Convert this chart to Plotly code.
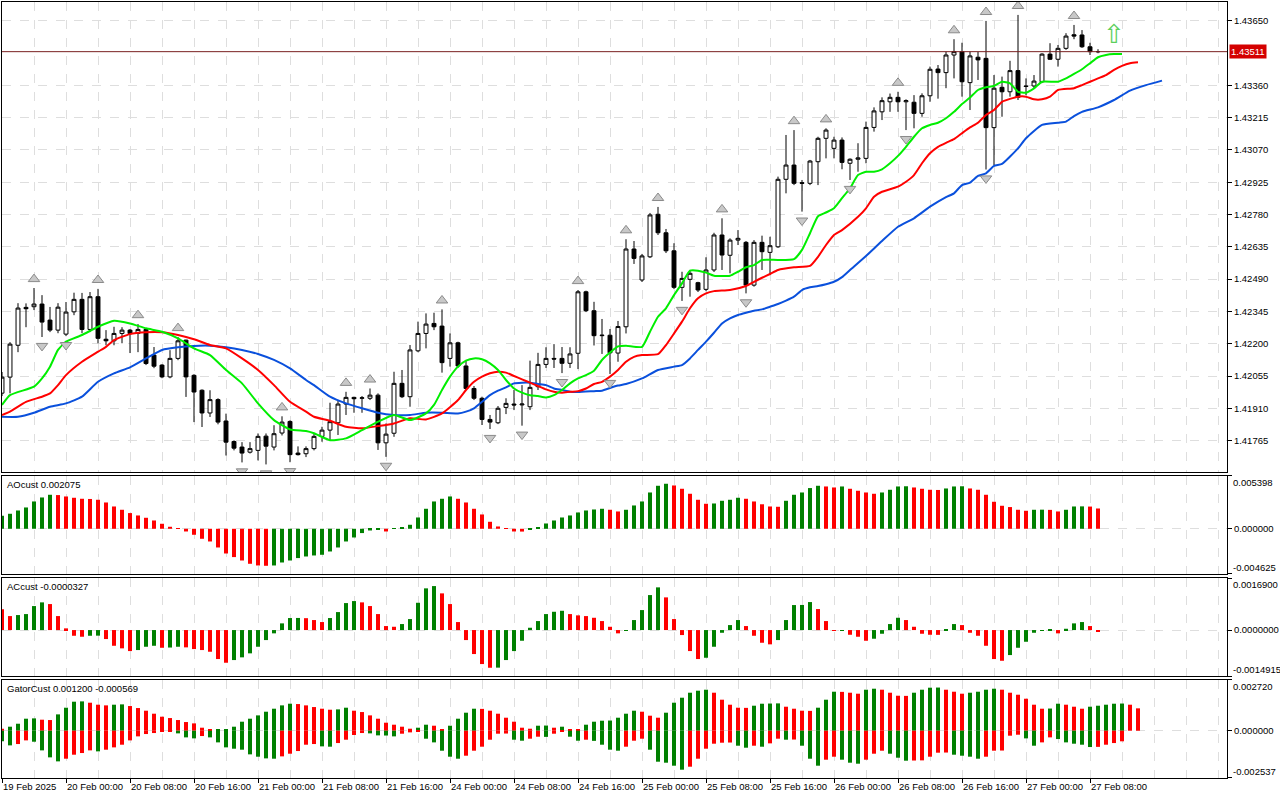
import plotly.graph_objects as go

# H1 bars, 19 Feb 2025 16:00 .. 27 Feb 2025 09:00 (weekend skipped)
opens = [
    1.41978, 1.42050, 1.42193, 1.42363, 1.42366, 1.42378, 1.42306, 1.42261, 1.42243, 1.42343,
    1.42399, 1.42264, 1.42411, 1.42220, 1.42213, 1.42246, 1.42261, 1.42246, 1.42264, 1.42149,
    1.42104, 1.42051, 1.42134, 1.42216, 1.42058, 1.41991, 1.41889, 1.41949, 1.41853, 1.41761,
    1.41736, 1.41713, 1.41721, 1.41785, 1.41736, 1.41799, 1.41851, 1.41709, 1.41706, 1.41729,
    1.41784, 1.41812, 1.41845, 1.41929, 1.41959, 1.41955, 1.41955, 1.41969, 1.41755, 1.41798,
    1.42022, 1.41962, 1.42168, 1.42246, 1.42291, 1.42279, 1.42134, 1.42204, 1.42100, 1.41999,
    1.41955, 1.41860, 1.41845, 1.41914, 1.41929, 1.41925, 1.41917, 1.42007, 1.42107, 1.42134,
    1.42134, 1.42112, 1.42157, 1.42433, 1.42348, 1.42236, 1.42238, 1.42158, 1.42276, 1.42625,
    1.42486, 1.42590, 1.42781, 1.42698, 1.42617, 1.42453, 1.42489, 1.42474, 1.42444, 1.42531,
    1.42688, 1.42597, 1.42665, 1.42655, 1.42463, 1.42655, 1.42610, 1.42635, 1.42938, 1.43002,
    1.42923, 1.42920, 1.43017, 1.43122, 1.43077, 1.43114, 1.43010, 1.43028, 1.43032, 1.43171,
    1.43241, 1.43286, 1.43306, 1.43286, 1.43284, 1.43234, 1.43313, 1.43433, 1.43417, 1.43496,
    1.43511, 1.43372, 1.43486, 1.43481, 1.43170, 1.43351, 1.43331, 1.43426, 1.43357, 1.43357,
    1.43376, 1.43500, 1.43477, 1.43526, 1.43587, 1.43586, 1.43533, 1.43511]
highs = [
    1.42073, 1.42207, 1.42382, 1.42381, 1.42450, 1.42418, 1.42365, 1.42382, 1.42387, 1.42429,
    1.42428, 1.42432, 1.42446, 1.42261, 1.42276, 1.42274, 1.42266, 1.42288, 1.42270, 1.42185,
    1.42108, 1.42171, 1.42230, 1.42218, 1.42063, 1.41995, 1.41991, 1.41955, 1.41886, 1.41766,
    1.41758, 1.41758, 1.41797, 1.41797, 1.41834, 1.41874, 1.41856, 1.41739, 1.41739, 1.41797,
    1.41827, 1.41935, 1.41943, 1.41984, 1.41962, 1.41965, 1.41999, 1.41977, 1.41842, 1.42074,
    1.42082, 1.42194, 1.42299, 1.42336, 1.42339, 1.42354, 1.42246, 1.42209, 1.42127, 1.42010,
    1.41962, 1.41880, 1.41920, 1.41955, 1.41992, 1.42014, 1.42124, 1.42159, 1.42184, 1.42198,
    1.42185, 1.42184, 1.42441, 1.42438, 1.42388, 1.42311, 1.42266, 1.42302, 1.42669, 1.42661,
    1.42603, 1.42787, 1.42814, 1.42715, 1.42651, 1.42523, 1.42531, 1.42478, 1.42588, 1.42698,
    1.42763, 1.42673, 1.42710, 1.42661, 1.42665, 1.42685, 1.42680, 1.42950, 1.43137, 1.43159,
    1.42935, 1.43025, 1.43129, 1.43167, 1.43129, 1.43126, 1.43032, 1.43100, 1.43197, 1.43261,
    1.43306, 1.43323, 1.43331, 1.43297, 1.43316, 1.43324, 1.43444, 1.43451, 1.43511, 1.43567,
    1.43551, 1.43511, 1.43510, 1.43649, 1.43406, 1.43399, 1.43470, 1.43676, 1.43391, 1.43406,
    1.43504, 1.43549, 1.43541, 1.43594, 1.43631, 1.43608, 1.43551, 1.43522]
lows = [
    1.41965, 1.41977, 1.42162, 1.42274, 1.42351, 1.42230, 1.42252, 1.42247, 1.42234, 1.42328,
    1.42247, 1.42252, 1.42202, 1.42193, 1.42193, 1.42202, 1.42158, 1.42162, 1.42104, 1.42090,
    1.42045, 1.42045, 1.42126, 1.41961, 1.41848, 1.41826, 1.41871, 1.41838, 1.41698, 1.41721,
    1.41667, 1.41707, 1.41676, 1.41658, 1.41721, 1.41788, 1.41668, 1.41698, 1.41691, 1.41721,
    1.41760, 1.41767, 1.41790, 1.41880, 1.41890, 1.41890, 1.41947, 1.41723, 1.41692, 1.41782,
    1.41956, 1.41917, 1.42162, 1.42179, 1.42261, 1.42070, 1.42097, 1.42091, 1.41992, 1.41947,
    1.41835, 1.41817, 1.41839, 1.41884, 1.41902, 1.41832, 1.41902, 1.41992, 1.42091, 1.42091,
    1.42068, 1.42091, 1.42086, 1.42342, 1.42192, 1.42154, 1.42064, 1.42119, 1.42246, 1.42558,
    1.42477, 1.42585, 1.42688, 1.42607, 1.42445, 1.42392, 1.42411, 1.42432, 1.42436, 1.42522,
    1.42531, 1.42516, 1.42643, 1.42426, 1.42456, 1.42531, 1.42508, 1.42630, 1.42875, 1.42912,
    1.42793, 1.42912, 1.42912, 1.43032, 1.43032, 1.42983, 1.42935, 1.42972, 1.43010, 1.43152,
    1.43204, 1.43241, 1.43241, 1.43159, 1.43167, 1.43219, 1.43286, 1.43300, 1.43347, 1.43391,
    1.43309, 1.43249, 1.43384, 1.42982, 1.43002, 1.43219, 1.43309, 1.43294, 1.43316, 1.43347,
    1.43370, 1.43474, 1.43444, 1.43519, 1.43567, 1.43528, 1.43496, 1.43504]
closes = [
    1.42050, 1.42198, 1.42360, 1.42357, 1.42378, 1.42297, 1.42261, 1.42364, 1.42342, 1.42399,
    1.42264, 1.42411, 1.42224, 1.42213, 1.42246, 1.42261, 1.42246, 1.42264, 1.42111, 1.42099,
    1.42051, 1.42134, 1.42213, 1.42051, 1.41983, 1.41889, 1.41949, 1.41848, 1.41758, 1.41731,
    1.41709, 1.41729, 1.41784, 1.41740, 1.41796, 1.41848, 1.41702, 1.41702, 1.41729, 1.41784,
    1.41812, 1.41850, 1.41929, 1.41959, 1.41953, 1.41957, 1.41969, 1.41755, 1.41794, 1.42022,
    1.41962, 1.42172, 1.42246, 1.42288, 1.42276, 1.42115, 1.42204, 1.42100, 1.41999, 1.41955,
    1.41860, 1.41848, 1.41910, 1.41932, 1.41925, 1.41929, 1.42004, 1.42107, 1.42134, 1.42131,
    1.42112, 1.42154, 1.42433, 1.42348, 1.42236, 1.42238, 1.42159, 1.42277, 1.42625, 1.42583,
    1.42594, 1.42778, 1.42698, 1.42617, 1.42453, 1.42493, 1.42516, 1.42441, 1.42531, 1.42688,
    1.42598, 1.42665, 1.42673, 1.42463, 1.42655, 1.42613, 1.42640, 1.42938, 1.43002, 1.42920,
    1.42920, 1.43020, 1.43122, 1.43159, 1.43114, 1.43014, 1.43028, 1.43034, 1.43171, 1.43245,
    1.43291, 1.43306, 1.43286, 1.43291, 1.43234, 1.43313, 1.43432, 1.43417, 1.43496, 1.43511,
    1.43376, 1.43492, 1.43474, 1.43170, 1.43347, 1.43331, 1.43426, 1.43306, 1.43355, 1.43379,
    1.43500, 1.43477, 1.43526, 1.43581, 1.43581, 1.43533, 1.43511, 1.43511]

# Alligator lines (bar index -> price)
lips_x = [0, 1, 4, 5, 6, 7, 8, 10, 12, 14, 16, 18, 20, 22, 24, 26, 28, 30, 32, 34, 36, 38, 39,
          41, 43, 45, 47, 49, 51, 53, 54, 55, 56, 57, 58, 59, 60, 61, 62, 63, 64, 65, 66, 67,
          68, 69, 70, 71, 72, 73, 74, 75, 76, 77, 78, 80, 81, 82, 83, 84, 85, 86, 87, 88, 89,
          91, 92, 93, 94, 95, 97, 99, 100, 101, 102, 103, 104, 105, 106, 107, 108, 109, 110,
          111, 112, 113, 114, 115, 116, 117, 118, 119, 120, 121, 122, 123, 124, 125, 126, 127,
          128, 129, 130, 132, 133, 134, 135, 136, 137, 138, 139, 140]
lips_y = [1.41925, 1.41969, 1.42007, 1.42044, 1.42097, 1.42172, 1.42209, 1.42239, 1.42276,
          1.42303, 1.42291, 1.42269, 1.42254, 1.42224, 1.42179, 1.42149, 1.42082, 1.42022,
          1.41932, 1.41857, 1.41815, 1.41808, 1.41798, 1.41767, 1.41775, 1.41812, 1.41850,
          1.41880, 1.41857, 1.41887, 1.41925, 1.41992, 1.42052, 1.42097, 1.42124, 1.42134,
          1.42130, 1.42112, 1.42082, 1.42037, 1.41999, 1.41980, 1.41969, 1.41965, 1.41959,
          1.41969, 1.41992, 1.42022, 1.42044, 1.42059, 1.42079, 1.42127, 1.42160, 1.42188,
          1.42191, 1.42186, 1.42254, 1.42321, 1.42359, 1.42418, 1.42471, 1.42528, 1.42528,
          1.42519, 1.42505, 1.42505, 1.42523, 1.42543, 1.42553, 1.42576, 1.42576, 1.42580,
          1.42621, 1.42696, 1.42772, 1.42789, 1.42808, 1.42853, 1.42898, 1.42957, 1.42972,
          1.42972, 1.42983, 1.43010, 1.43043, 1.43084, 1.43129, 1.43167, 1.43182, 1.43192,
          1.43212, 1.43241, 1.43276, 1.43305, 1.43339, 1.43351, 1.43357, 1.43376, 1.43369,
          1.43331, 1.43327, 1.43346, 1.43376, 1.43376, 1.43391, 1.43411, 1.43432, 1.43459,
          1.43486, 1.43496, 1.43500, 1.43500]
teeth_x = [0, 1, 3, 5, 6, 7, 8, 10, 12, 13, 14, 16, 18, 20, 22, 24, 26, 28, 30, 32, 34, 36, 38,
           39, 41, 43, 45, 47, 49, 51, 53, 55, 57, 58, 59, 60, 61, 62, 63, 64, 65, 66, 67, 68,
           69, 70, 71, 72, 73, 74, 75, 76, 77, 78, 79, 80, 82, 83, 84, 85, 86, 87, 88, 89, 91,
           93, 94, 95, 96, 97, 99, 101, 102, 103, 104, 105, 107, 108, 109, 110, 112, 113, 114,
           115, 116, 117, 118, 119, 120, 121, 122, 123, 124, 125, 127, 128, 129, 130, 131, 132,
           134, 135, 136, 137, 138, 139, 140, 141, 142]
teeth_y = [1.41880, 1.41895, 1.41939, 1.41962, 1.41977, 1.42014, 1.42059, 1.42119, 1.42164,
           1.42186, 1.42216, 1.42243, 1.42251, 1.42251, 1.42239, 1.42220, 1.42194, 1.42179,
           1.42134, 1.42082, 1.42014, 1.41939, 1.41895, 1.41872, 1.41854, 1.41827, 1.41820,
           1.41830, 1.41842, 1.41865, 1.41860, 1.41887, 1.41947, 1.41992, 1.42029, 1.42052,
           1.42067, 1.42074, 1.42070, 1.42055, 1.42040, 1.42025, 1.42010, 1.41995, 1.41984,
           1.41980, 1.41984, 1.41987, 1.41999, 1.42019, 1.42029, 1.42052, 1.42082, 1.42119,
           1.42141, 1.42149, 1.42153, 1.42194, 1.42246, 1.42299, 1.42359, 1.42404, 1.42426,
           1.42436, 1.42441, 1.42459, 1.42478, 1.42496, 1.42513, 1.42531, 1.42543, 1.42549,
           1.42590, 1.42643, 1.42688, 1.42710, 1.42770, 1.42808, 1.42860, 1.42882, 1.42905,
           1.42927, 1.42957, 1.43010, 1.43055, 1.43084, 1.43102, 1.43118, 1.43145, 1.43171,
           1.43192, 1.43227, 1.43249, 1.43286, 1.43309, 1.43309, 1.43297, 1.43297, 1.43309,
           1.43339, 1.43347, 1.43361, 1.43376, 1.43391, 1.43406, 1.43429, 1.43447, 1.43459,
           1.43463]
jaw_x = [0, 2, 4, 6, 8, 10, 12, 14, 16, 18, 20, 22, 24, 26, 28, 30, 32, 34, 36, 38, 39, 41, 43,
         45, 47, 49, 51, 53, 55, 57, 58, 59, 60, 61, 62, 63, 64, 65, 66, 67, 68, 69, 70, 71, 72,
         74, 75, 76, 77, 78, 80, 82, 84, 85, 86, 87, 88, 89, 90, 91, 92, 93, 94, 95, 96, 97, 98,
         99, 100, 101, 102, 103, 104, 105, 106, 108, 110, 112, 114, 116, 118, 119, 120, 121,
         122, 123, 124, 125, 127, 128, 130, 132, 133, 134, 135, 137, 139, 141, 143, 145]
jaw_y = [1.41872, 1.41872, 1.41890, 1.41917, 1.41932, 1.41962, 1.42029, 1.42067, 1.42094,
         1.42134, 1.42172, 1.42184, 1.42190, 1.42191, 1.42184, 1.42172, 1.42154, 1.42127,
         1.42089, 1.42037, 1.42014, 1.41962, 1.41932, 1.41910, 1.41890, 1.41880, 1.41880,
         1.41890, 1.41890, 1.41887, 1.41895, 1.41910, 1.41939, 1.41969, 1.41989, 1.42004,
         1.42022, 1.42025, 1.42025, 1.42019, 1.42014, 1.41999, 1.41992, 1.41984, 1.41983,
         1.41987, 1.41989, 1.42001, 1.42012, 1.42019, 1.42044, 1.42082, 1.42097, 1.42104,
         1.42134, 1.42172, 1.42209, 1.42249, 1.42291, 1.42314, 1.42329, 1.42339, 1.42348,
         1.42354, 1.42366, 1.42378, 1.42393, 1.42411, 1.42441, 1.42453, 1.42459, 1.42467,
         1.42478, 1.42499, 1.42531, 1.42594, 1.42661, 1.42725, 1.42763, 1.42815, 1.42858,
         1.42875, 1.42912, 1.42923, 1.42953, 1.42965, 1.42998, 1.43007, 1.43077, 1.43122,
         1.43182, 1.43192, 1.43197, 1.43222, 1.43241, 1.43261, 1.43294, 1.43336, 1.43361,
         1.43381]

fractal_up = [4, 12, 17, 22, 35, 43, 46, 55, 72, 78, 82, 90, 99, 103, 112, 119, 123, 127, 134]
fractal_dn = [5, 8, 30, 33, 36, 48, 61, 65, 70, 76, 85, 93, 100, 106, 113, 123]
signal_bar, signal_price = 139, 1.43580
last_price = 1.43511

ao = [
    0.001330, 0.001535, 0.001872, 0.002179, 0.002793, 0.003202, 0.003478, 0.003448, 0.003304, 0.003171,
    0.003069, 0.003049, 0.002967, 0.002690, 0.002281, 0.001944, 0.001606, 0.001361, 0.001125, 0.000849,
    0.000512, 0.000205, 0.000031, -0.000276, -0.000614, -0.001023, -0.001299, -0.001913, -0.002527, -0.002895,
    -0.003243, -0.003581, -0.003754, -0.003785, -0.003754, -0.003448, -0.003243, -0.002997, -0.002834, -0.002731,
    -0.002660, -0.002322, -0.001913, -0.001299, -0.000890, -0.000440, -0.000174, -0.000072, -0.000276, 0.000031,
    0.000102, 0.000409, 0.001156, 0.002046, 0.002793, 0.003069, 0.003304, 0.003069, 0.002690, 0.002046,
    0.001463, 0.000716, 0.000235, 0.000031, -0.000276, -0.000286, -0.000072, 0.000174, 0.000542, 0.000849,
    0.001156, 0.001361, 0.001667, 0.001872, 0.001974, 0.002046, 0.001944, 0.001770, 0.001944, 0.002384,
    0.002793, 0.003713, 0.004399, 0.004604, 0.004430, 0.004092, 0.003581, 0.002967, 0.002558, 0.002588,
    0.002864, 0.002967, 0.003171, 0.003069, 0.002793, 0.002506, 0.002281, 0.002251, 0.002864, 0.003478,
    0.003713, 0.004164, 0.004399, 0.004327, 0.004225, 0.004327, 0.004092, 0.003887, 0.003713, 0.003581,
    0.003713, 0.003990, 0.004327, 0.004348, 0.004225, 0.004092, 0.003990, 0.003969, 0.004123, 0.004327,
    0.004348, 0.004123, 0.003990, 0.003478, 0.002762, 0.002353, 0.002220, 0.001944, 0.001841, 0.001944,
    0.001954, 0.001933, 0.001770, 0.001944, 0.002281, 0.002292, 0.002271, 0.002075]
ac = [
    0.000672, 0.000454, 0.000487, 0.000519, 0.000779, 0.000899, 0.000844, 0.000454, 0.000055, -0.000185,
    -0.000217, -0.000185, -0.000182, -0.000292, -0.000510, -0.000594, -0.000682, -0.000649, -0.000542, -0.000510,
    -0.000575, -0.000568, -0.000542, -0.000562, -0.000617, -0.000649, -0.000704, -0.000941, -0.001061, -0.000974,
    -0.000886, -0.000756, -0.000542, -0.000325, -0.000107, 0.000217, 0.000390, 0.000393, 0.000386, 0.000325,
    0.000260, 0.000390, 0.000584, 0.000876, 0.000941, 0.000899, 0.000779, 0.000519, 0.000130, 0.000107,
    0.000195, 0.000357, 0.000886, 0.001354, 0.001428, 0.001191, 0.000844, 0.000260, -0.000325, -0.000779,
    -0.001104, -0.001224, -0.001220, -0.000974, -0.000682, -0.000347, 0.000075, 0.000292, 0.000519, 0.000594,
    0.000626, 0.000519, 0.000477, 0.000454, 0.000399, 0.000292, 0.000107, -0.000107, -0.000023, 0.000325,
    0.000649, 0.001136, 0.001386, 0.001061, 0.000357, -0.000162, -0.000682, -0.000941, -0.000899, -0.000542,
    -0.000088, 0.000162, 0.000325, 0.000130, -0.000185, -0.000412, -0.000464, -0.000325, 0.000325, 0.000812,
    0.000815, 0.000909, 0.000682, 0.000292, -0.000010, -0.000006, -0.000153, -0.000217, -0.000347, -0.000282,
    -0.000120, 0.000195, 0.000399, 0.000325, 0.000107, -0.000120, -0.000153, -0.000156, 0.000023, 0.000195,
    0.000162, -0.000088, -0.000185, -0.000510, -0.000941, -0.000997, -0.000812, -0.000575, -0.000380, -0.000088,
    -0.000010, 0.000010, -0.000107, 0.000042, 0.000217, 0.000260, 0.000130, -0.0000327]
gator_up = [
    0.000107, 0.000215, 0.000375, 0.000644, 0.000662, 0.000590, 0.000572, 0.000876, 0.001234, 0.001556,
    0.001573, 0.001502, 0.001395, 0.001359, 0.001395, 0.001413, 0.001323, 0.001216, 0.001073, 0.000912,
    0.000751, 0.000679, 0.000572, 0.000465, 0.000393, 0.000161, 0.000054, 0.000063, 0.000072, 0.000215,
    0.000483, 0.000644, 0.000822, 0.001019, 0.001180, 0.001359, 0.001448, 0.001430, 0.001359, 0.001269,
    0.001180, 0.001126, 0.001144, 0.001234, 0.001073, 0.001001, 0.000822, 0.000644, 0.000429, 0.000322,
    0.000215, 0.000107, 0.000161, 0.000322, 0.000268, 0.000054, 0.000268, 0.000644, 0.000966, 0.001180,
    0.001171, 0.001073, 0.000912, 0.000697, 0.000483, 0.000161, 0.000107, 0.000268, 0.000277, 0.000161,
    0.000215, 0.000054, 0.000045, 0.000322, 0.000483, 0.000536, 0.000545, 0.000697, 0.000912, 0.001073,
    0.001019, 0.000805, 0.000697, 0.000966, 0.001502, 0.001770, 0.002038, 0.002146, 0.002199, 0.002038,
    0.001663, 0.001395, 0.001234, 0.001225, 0.001341, 0.001448, 0.001457, 0.001466, 0.001287, 0.001180,
    0.001073, 0.001064, 0.001234, 0.001663, 0.002092, 0.002083, 0.002038, 0.001985, 0.002199, 0.002253,
    0.002199, 0.002038, 0.001877, 0.001868, 0.002038, 0.002199, 0.002307, 0.002315, 0.002199, 0.002092,
    0.001985, 0.002038, 0.002092, 0.002199, 0.002253, 0.002199, 0.002038, 0.001931, 0.001716, 0.001395,
    0.001180, 0.001189, 0.001448, 0.001395, 0.001287, 0.001180, 0.001287, 0.001341, 0.001395, 0.001448,
    0.001457, 0.001395, 0.001200]
gator_dn = [
    -0.000572, -0.000787, -0.000715, -0.000519, -0.000590, -0.001055, -0.001430, -0.001645, -0.001502, -0.001287,
    -0.001198, -0.001055, -0.001109, -0.001019, -0.000894, -0.000751, -0.000519, -0.000304, -0.000179, -0.000125,
    -0.000054, -0.000036, -0.000143, -0.000358, -0.000411, -0.000286, -0.000358, -0.000626, -0.000894, -0.000966,
    -0.001019, -0.001269, -0.001395, -0.001484, -0.001502, -0.001377, -0.001234, -0.001091, -0.000751, -0.000715,
    -0.000840, -0.000858, -0.000662, -0.000483, -0.000232, -0.000125, -0.000143, -0.000250, -0.000259, -0.000304,
    -0.000161, -0.000089, -0.000018, -0.000429, -0.000626, -0.001073, -0.001395, -0.001502, -0.001341, -0.001073,
    -0.000858, -0.000483, -0.000161, -0.000152, -0.000483, -0.000536, -0.000429, -0.000322, -0.000331, -0.000161,
    -0.000036, -0.000322, -0.000536, -0.000483, -0.000545, -0.000751, -0.001019, -0.001073, -0.000858, -0.000536,
    -0.000429, -0.001019, -0.001663, -0.001716, -0.001877, -0.002092, -0.001931, -0.001502, -0.000966, -0.000697,
    -0.000644, -0.000635, -0.000805, -0.000912, -0.000805, -0.000858, -0.000679, -0.000429, -0.000483, -0.000474,
    -0.000805, -0.001502, -0.001877, -0.001556, -0.001395, -0.001556, -0.001716, -0.001770, -0.001556, -0.001234,
    -0.001073, -0.001234, -0.001448, -0.001609, -0.001600, -0.001591, -0.001395, -0.001180, -0.001171, -0.001287,
    -0.001341, -0.001395, -0.001502, -0.001395, -0.001073, -0.001064, -0.000268, -0.000215, -0.000411, -0.000805,
    -0.000626, -0.000358, -0.000447, -0.000626, -0.000697, -0.000751, -0.000876, -0.000867, -0.000751, -0.000662,
    -0.000569]

# the 1.43505 level sits under the red bid label, so it is not printed
price_ticks = [1.41765, 1.41910, 1.42055, 1.42200, 1.42345, 1.42490, 1.42635, 1.42780,
               1.42925, 1.43070, 1.43215, 1.43360, 1.43650]
time_labels = ["19 Feb 2025", "20 Feb 00:00", "20 Feb 08:00", "20 Feb 16:00", "21 Feb 00:00",
               "21 Feb 08:00", "21 Feb 16:00", "24 Feb 00:00", "24 Feb 08:00", "24 Feb 16:00",
               "25 Feb 00:00", "25 Feb 08:00", "25 Feb 16:00", "26 Feb 00:00", "26 Feb 08:00",
               "26 Feb 16:00", "27 Feb 00:00", "27 Feb 08:00"]
time_pos = [8 * k for k in range(len(time_labels))]

GREEN = "#008000"
RED = "#ff0000"
GRID = "#dedede"
FONT = "Liberation Sans"


def bar_colors(vals, first, by_abs=False):
    out = [first]
    for prev, cur in zip(vals[:-1], vals[1:]):
        up = abs(cur) > abs(prev) if by_abs else cur > prev
        out.append(GREEN if up else RED)
    return out


bars = list(range(len(opens)))
fig = go.Figure()

# alligator behind the candles
for xs, ys, col in [(jaw_x, jaw_y, "#0a50dc"), (teeth_x, teeth_y, "#ff0000"),
                    (lips_x, lips_y, "#00ee00")]:
    fig.add_trace(go.Scatter(x=xs, y=ys, mode="lines", hoverinfo="skip",
                             line=dict(color=col, width=2, shape="spline", smoothing=0.5)))

fig.add_trace(go.Candlestick(
    x=bars, open=opens, high=highs, low=lows, close=closes, whiskerwidth=0,
    increasing=dict(line=dict(color="black", width=1), fillcolor="white"),
    decreasing=dict(line=dict(color="black", width=1), fillcolor="black"),
    hoverinfo="skip"))

fig.add_trace(go.Scatter(
    x=fractal_up, y=[highs[i] + 0.0004 for i in fractal_up], mode="markers", hoverinfo="skip",
    marker=dict(symbol="triangle-up", size=10, color="#c8c8c8", line=dict(color="#8a8a8a", width=1))))
fig.add_trace(go.Scatter(
    x=fractal_dn, y=[lows[i] - 0.0004 for i in fractal_dn], mode="markers", hoverinfo="skip",
    marker=dict(symbol="triangle-down", size=10, color="#c8c8c8", line=dict(color="#8a8a8a", width=1))))
fig.add_trace(go.Scatter(
    x=[signal_bar], y=[signal_price], mode="text", text=["\u21e7"], hoverinfo="skip",
    textfont=dict(family="DejaVu Sans", size=26, color="#5ccf5c")))

fig.add_trace(go.Bar(x=bars, y=ao, width=0.5, marker=dict(color=bar_colors(ao, GREEN), line_width=0),
                     xaxis="x2", yaxis="y2", hoverinfo="skip"))
fig.add_trace(go.Bar(x=bars, y=ac, width=0.5, marker=dict(color=bar_colors(ac, RED), line_width=0),
                     xaxis="x3", yaxis="y3", hoverinfo="skip"))
fig.add_trace(go.Bar(x=list(range(len(gator_up))), y=gator_up, width=0.5,
                     marker=dict(color=bar_colors(gator_up, RED), line_width=0),
                     xaxis="x4", yaxis="y4", hoverinfo="skip"))
fig.add_trace(go.Bar(x=list(range(len(gator_dn))), y=gator_dn, width=0.5,
                     marker=dict(color=bar_colors(gator_dn, GREEN, by_abs=True), line_width=0),
                     xaxis="x4", yaxis="y4", hoverinfo="skip"))

xbase = dict(range=[0, 153.125], showline=True, linecolor="black", linewidth=1, mirror=True,
             tickmode="array", tickvals=time_pos, ticktext=time_labels, showticklabels=False,
             ticks="", showgrid=True, gridcolor=GRID, griddash="dash", gridwidth=1,
             minor=dict(tick0=0, dtick=4, showgrid=True, gridcolor=GRID, griddash="dash"),
             zeroline=False, fixedrange=True, automargin=False, tickangle=0)
ybase = dict(side="right", showline=True, linecolor="black", linewidth=1, mirror=True,
             ticks="outside", ticklen=4, tickcolor="black", showgrid=True, gridcolor=GRID,
             griddash="dash", zeroline=False, fixedrange=True, automargin=False,
             tickfont=dict(family=FONT, size=9.5, color="black"))

subs = [
    ("y2", [0.26289, 0.38918], -0.004625, 0.005398, "0.000000", "-0.004625", "0.005398", "AOcust 0.002075"),
    ("y3", [0.13144, 0.25773], -0.0014915, 0.00169, "0.0000000", "-0.0014915", "0.0016900", "ACcust -0.0000327"),
    ("y4", [0.0, 0.12629], -0.002537, 0.00272, "0.000000", "-0.002537", "0.002720", "GatorCust 0.001200 -0.000569"),
]

layout = dict(
    width=1280, height=800, margin=dict(l=2, r=53, t=2, b=22),
    paper_bgcolor="white", plot_bgcolor="white", showlegend=False, barmode="overlay",
    font=dict(family=FONT, size=9.5, color="black"),
    xaxis=dict(xbase, anchor="y", rangeslider=dict(visible=False)),
    yaxis=dict(ybase, domain=[0.39433, 1.0], range=[1.41624, 1.43734], anchor="x",
               tickvals=price_ticks, tickformat=".5f"),
)
annotations = []
for k, (yname, dom, lo, hi, zero_txt, lo_txt, hi_txt, title) in enumerate(subs, start=2):
    last = k == 4
    layout["xaxis%d" % k] = dict(xbase, anchor=yname, matches="x",
                                 showticklabels=last, ticks="outside" if last else "",
                                 ticklen=4, tickcolor="black", ticklabelposition="outside right",
                                 tickfont=dict(family=FONT, size=9.5, color="black"))
    layout["yaxis%d" % k] = dict(ybase, domain=dom, range=[lo, hi], anchor="x%d" % k,
                                 tickvals=[hi, 0, lo], ticktext=["", zero_txt, ""])
    annotations.append(dict(x=1, xref="paper", xanchor="left", xshift=5, y=hi, yref=yname,
                            yanchor="top", text=hi_txt, showarrow=False, borderpad=0))
    annotations.append(dict(x=1, xref="paper", xanchor="left", xshift=5, y=lo, yref=yname,
                            yanchor="bottom", text=lo_txt, showarrow=False, borderpad=0))
    annotations.append(dict(x=0, xref="paper", xanchor="left", xshift=4, y=1,
                            yref=yname + " domain", yanchor="top", yshift=-2, text=title,
                            showarrow=False, borderpad=0))

annotations.append(dict(x=1, xref="paper", xanchor="left", xshift=2, y=last_price, yref="y",
                        text="1.43511", showarrow=False, bgcolor="#d40000", borderpad=1,
                        font=dict(family=FONT, size=9.5, color="white")))
layout["annotations"] = annotations
layout["shapes"] = [dict(type="line", xref="x domain", x0=0, x1=1, yref="y",
                         y0=last_price, y1=last_price, line=dict(color="#7a2020", width=1),
                         layer="above")]

fig.update_layout(layout)
# page body margin would push the chart 8px off the window; no modebar either
fig.write_html("out.html", config={"displayModeBar": False},
               post_script="document.body.style.margin='0';")
